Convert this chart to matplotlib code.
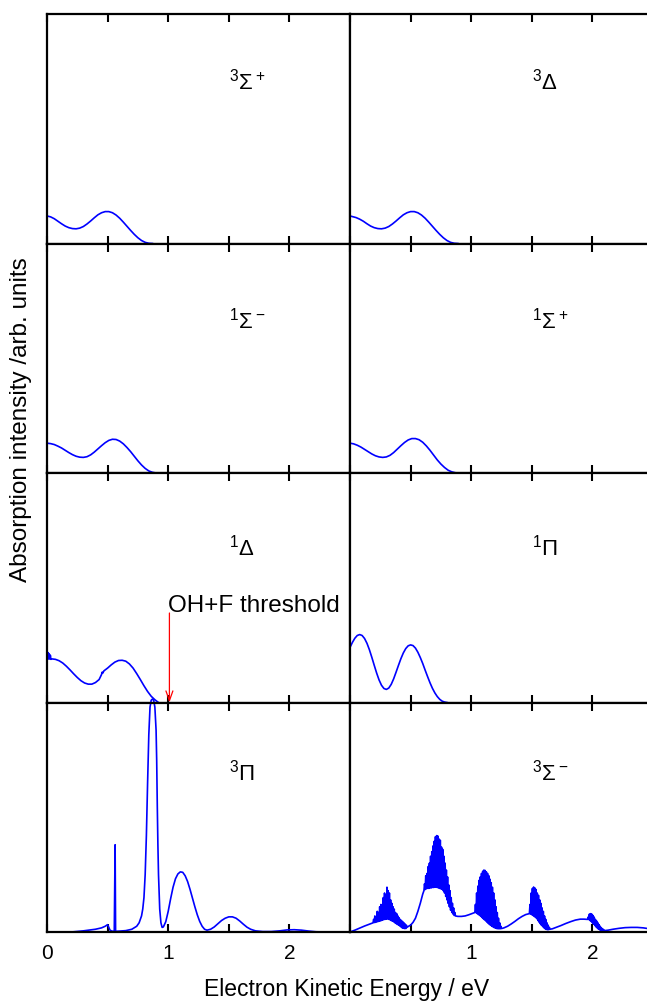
import matplotlib
matplotlib.use('Agg')
import matplotlib.pyplot as plt

plt.rcParams['font.family'] = ['Liberation Sans', 'DejaVu Sans']
plt.rcParams['mathtext.fontset'] = 'custom'
plt.rcParams['mathtext.rm'] = 'Liberation Sans'
plt.rcParams['mathtext.it'] = 'Liberation Sans:italic'

# 3Sigma+ (top left)
x_3sp = [0, .03, .06, .09, .12, .15, .18, .21, .24, .27, .30, .33, .36, .39, .42,
         .45, .48, .51, .54, .57, .60, .63, .66, .69, .72, .75, .78, .81, .84, .87]
y_3sp = [.120, .116, .108, .097, .086, .076, .069, .065, .064, .067, .074, .085, .098, .112, .125,
         .134, .139, .139, .134, .124, .110, .093, .075, .057, .040, .025, .013, .005, .001, 0]

# 3Delta (top right)
x_3d = [0, .05, .08, .11, .14, .17, .20, .23, .26, .29, .32, .35, .38, .41, .44,
        .47, .50, .53, .56, .59, .62, .65, .68, .71, .74, .77, .80, .83, .86, .89]
y_3d = [.120, .113, .106, .097, .086, .076, .069, .065, .064, .067, .074, .085, .098, .112, .125,
        .134, .139, .139, .134, .124, .110, .093, .075, .057, .040, .025, .013, .005, .001, 0]

# 1Sigma- (second row left)
x_1sm = [0, .03, .06, .09, .12, .15, .18, .21, .24, .27, .30, .33, .36, .39, .42, .45,
         .48, .51, .54, .57, .60, .63, .66, .69, .72, .75, .78, .81, .84, .87, .90]
y_1sm = [.130, .128, .124, .117, .109, .099, .089, .080, .073, .069, .068, .071, .079, .091, .105, .119,
         .132, .142, .147, .146, .139, .127, .111, .093, .073, .053, .035, .020, .009, .003, 0]

# 1Sigma+ (second row right)
x_1sp = [0, .03, .06, .09, .12, .15, .18, .21, .24, .27, .30, .33, .36, .39, .42, .45,
         .48, .51, .54, .57, .60, .63, .66, .69, .72, .75, .78, .81, .84, .87, .90]
y_1sp = [.130, .127, .121, .113, .103, .093, .083, .075, .070, .068, .070, .077, .089, .104, .119, .133,
         .144, .150, .150, .145, .134, .118, .099, .078, .057, .039, .024, .012, .005, .001, 0]

# 1Delta (third row left)
x_1d = [0, .004, .008, .012, .016, .02, .024, .028, .032, .04, .07, .10, .13, .16, .19, .22, .25,
        .28, .31, .34, .37, .40, .43, .45, .455, .46, .47, .50, .53, .56, .59, .62, .65, .68,
        .71, .74, .77, .80, .83, .86, .89, .92]
y_1d = [.19, .22, .19, .215, .19, .21, .19, .205, .188, .19, .188, .182, .172, .158, .142, .125, .109,
        .095, .085, .080, .080, .087, .100, .122, .132, .128, .138, .150, .164, .176, .183, .184, .180, .168,
        .150, .126, .100, .073, .048, .027, .012, 0]

# 1Pi (third row right)
x_1p = [0, .02, .04, .06, .08, .10, .12, .14, .16, .18, .20, .22, .24, .26, .28, .30, .32, .34, .36, .38,
        .40, .42, .44, .46, .48, .50, .52, .54, .56, .58, .60, .62, .64, .66, .68, .70, .72, .74, .76,
        .78, .80]
y_1p = [.240, .262, .280, .292, .296, .292, .279, .258, .230, .197, .162, .128, .098, .075, .061, .057,
        .063, .079, .103, .132, .162, .191, .216, .235, .247, .251, .248, .237, .219, .196, .170, .141,
        .113, .086, .062, .042, .026, .014, .006, .002, 0]

# 3Pi (bottom left)
x_3p = [0, .2, .3, .4, .45, .48, .50, .51, .52, .535, .555, .562, .566, .6, .65, .70,
        .74, .76, .78, .79, .80, .81, .82, .83, .84, .85, .86, .87, .88, .89, .90, .905, .91, .915, .92,
        .93, .94, .95, .96, .98, 1.00, 1.02, 1.04, 1.06, 1.08, 1.10, 1.12, 1.14, 1.16, 1.18, 1.20, 1.22,
        1.24, 1.26, 1.28, 1.30, 1.32, 1.35, 1.38, 1.41, 1.44, 1.47, 1.50, 1.53, 1.56, 1.59, 1.62, 1.65,
        1.68, 1.72, 1.78, 1.85, 1.92, 1.98, 2.04, 2.10, 2.16, 2.22, 2.3, 2.5]
y_3p = [0, 0, .005, .012, .018, .025, .032, .02, .008, .004, .003, .38, .003, .004, .006, .012,
        .025, .04, .07, .10, .15, .25, .42, .65, .86, .98, 1.01, 1.015, 1.01, .98, .88, .75, .55, .38, .25,
        .10, .04, .02, .022, .045, .09, .145, .195, .232, .253, .262, .26, .245, .22, .186, .148, .11,
        .075, .046, .025, .012, .008, .012, .022, .036, .05, .06, .066, .066, .06, .048, .034, .021,
        .012, .005, .002, .002, .005, .009, .01, .008, .004, .001, 0, 0]

# 3Sigma- (bottom right): smooth background pieces and dense vibrational bands
s0_x = [0, .04, .08, .12, .16]
s0_y = [0, .008, .017, .026, .034]
b1_x = [.190, .195, .200, .205, .210, .215, .220, .225, .230, .235, .240, .245, .250, .255, .260,
        .265, .270, .275, .280, .285, .290, .295, .300, .305, .310, .315, .320, .325, .330, .335,
        .340, .345, .350, .355, .360, .365, .370, .375, .380, .385, .390, .395, .400, .405, .410,
        .415, .420, .425, .430, .435, .440, .445, .450, .455, .460, .465, .470]
b1_y = [.040, .055, .041, .070, .042, .062, .044, .090, .045, .085, .047, .110, .048, .120, .050,
        .105, .052, .150, .054, .170, .055, .160, .056, .195, .057, .180, .055, .170, .053, .140,
        .050, .125, .047, .110, .044, .100, .040, .085, .037, .080, .033, .070, .030, .062, .026,
        .055, .022, .050, .018, .045, .016, .040, .015, .035, .015, .030, .020]
s1_x = [.48, .50, .52, .54, .56, .58, .60]
s1_y = [.024, .030, .042, .060, .090, .125, .165]
b2_x = [.610, .615, .620, .625, .630, .635, .640, .645, .650, .655, .660, .665, .670, .675, .680,
        .685, .690, .695, .700, .705, .710, .715, .720, .725, .730, .735, .740, .745, .750, .755,
        .760, .765, .770, .775, .780, .785, .790, .795, .800, .805, .810, .815, .820, .825, .830,
        .835, .840, .845, .850, .855, .860, .865, .870]
b2_y = [.180, .210, .185, .245, .188, .255, .190, .285, .190, .300, .192, .330, .192, .350, .194,
        .375, .194, .395, .195, .415, .195, .420, .194, .418, .192, .405, .190, .400, .188, .370,
        .186, .360, .180, .330, .170, .300, .155, .270, .140, .240, .125, .205, .110, .180, .095,
        .150, .085, .125, .078, .105, .072, .085, .070]
s2_x = [.89, .92, .95, .98, 1.01]
s2_y = [.068, .068, .070, .075, .081]
b3_x = [1.030, 1.035, 1.040, 1.045, 1.050, 1.055, 1.060, 1.065, 1.070, 1.075, 1.080, 1.085, 1.090,
        1.095, 1.100, 1.105, 1.110, 1.115, 1.120, 1.125, 1.130, 1.135, 1.140, 1.145, 1.150, 1.155,
        1.160, 1.165, 1.170, 1.175, 1.180, 1.185, 1.190, 1.195, 1.200, 1.205, 1.210, 1.215, 1.220,
        1.225, 1.230, 1.235, 1.240, 1.245, 1.250]
b3_y = [.085, .120, .084, .170, .080, .200, .076, .225, .072, .240, .068, .255, .063,
        .265, .058, .270, .053, .268, .048, .262, .043, .255, .038, .245, .033, .230,
        .029, .215, .025, .195, .022, .170, .019, .140, .017, .110, .015, .085, .014,
        .060, .014, .040, .014, .025, .015]
s3_x = [1.27, 1.30, 1.33, 1.36, 1.39, 1.42, 1.45]
s3_y = [.018, .025, .035, .046, .058, .068, .076]
b4_x = [1.480, 1.485, 1.490, 1.495, 1.500, 1.505, 1.510, 1.515, 1.520, 1.525, 1.530, 1.535, 1.540,
        1.545, 1.550, 1.555, 1.560, 1.565, 1.570, 1.575, 1.580, 1.585, 1.590, 1.595, 1.600, 1.605,
        1.610, 1.615, 1.620, 1.625, 1.630, 1.635, 1.640, 1.645, 1.650]
b4_y = [.080, .120, .078, .170, .075, .190, .072, .196, .068, .192, .064, .185, .058,
        .170, .050, .160, .043, .140, .036, .125, .029, .105, .023, .090, .018, .070,
        .014, .055, .011, .040, .010, .030, .010, .020, .012]
s4_x = [1.67, 1.70, 1.74, 1.78, 1.82, 1.86, 1.90, 1.93]
s4_y = [.014, .020, .028, .037, .045, .052, .056, .056]
b5_x = [1.960, 1.965, 1.970, 1.975, 1.980, 1.985, 1.990, 1.995, 2.000, 2.005, 2.010, 2.015, 2.020,
        2.025, 2.030, 2.035, 2.040, 2.045, 2.050, 2.055, 2.060, 2.065, 2.070, 2.075, 2.080, 2.085,
        2.090, 2.095, 2.100]
b5_y = [.055, .065, .054, .078, .050, .080, .046, .078, .040, .072, .034, .065, .028,
        .055, .022, .048, .017, .040, .012, .032, .009, .025, .007, .018, .006, .014,
        .006, .010, .006]
s5_x = [2.13, 2.17, 2.22, 2.27, 2.32, 2.37, 2.42, 2.47, 2.5]
s5_y = [.008, .012, .016, .019, .020, .020, .018, .014, .012]

x_3sm = s0_x + b1_x + s1_x + b2_x + s2_x + b3_x + s3_x + b4_x + s4_x + b5_x + s5_x
y_3sm = s0_y + b1_y + s1_y + b2_y + s2_y + b3_y + s3_y + b4_y + s4_y + b5_y + s5_y

panels = [
    [(x_3sp, y_3sp, r'$^3\Sigma^+$', 0.71), (x_3d, y_3d, r'$^3\Delta$', 0.71)],
    [(x_1sm, y_1sm, r'$^1\Sigma^-$', 0.67), (x_1sp, y_1sp, r'$^1\Sigma^+$', 0.67)],
    [(x_1d, y_1d, r'$^1\Delta$', 0.68), (x_1p, y_1p, r'$^1\Pi$', 0.68)],
    [(x_3p, y_3p, r'$^3\Pi$', 0.70), (x_3sm, y_3sm, r'$^3\Sigma^-$', 0.70)],
]

W, H = 647, 1003
fig = plt.figure(figsize=(W / 100, H / 100), dpi=100)

left0 = 47 / W
colw = 303 / W
top = 1 - 15 / H
rowh = 229.5 / H

axes = {}
for r in range(4):
    for c in range(2):
        x, y, label, ly = panels[r][c]
        ax = fig.add_axes([left0 + c * colw, top - (r + 1) * rowh, colw, rowh])
        line, = ax.plot(x, y, color='#0000ff', lw=1.2)
        if r == 3 and c == 0:
            line.set_clip_on(False)
        ax.set_xlim(0, 2.5)
        ax.set_ylim(0, 1)
        ax.set_yticks([])
        ax.set_xticks([0, 0.5, 1, 1.5, 2])
        ax.tick_params(axis='x', direction='in', top=True, bottom=True, length=6, width=1.5,
                       labelsize=15, pad=8)
        if r == 3:
            if c == 0:
                ax.set_xticklabels(['0', '', '1', '', '2'])
            else:
                ax.set_xticklabels(['', '', '1', '', '2'])
        else:
            ax.set_xticklabels([])
        for s in ax.spines.values():
            s.set_linewidth(1.6)
        ax.text(1.5, ly, label, fontsize=16, ha='left', va='center')
        axes[(r, c)] = ax

ax = axes[(2, 0)]
ax.annotate('', xy=(1.01, 0.0), xytext=(1.01, 0.39),
            arrowprops=dict(arrowstyle='->,head_length=0.7,head_width=0.25', color='red', lw=0.9,
                            shrinkA=0, shrinkB=0))
ax.text(1.0, 0.397, 'OH+F threshold', color='black', fontsize=17.5, ha='left', va='baseline')

fig.text(347 / W, 1 - 990 / H, 'Electron Kinetic Energy / eV', fontsize=16.5, ha='center', va='center')
fig.text(21 / W, 1 - 420 / H, 'Absorption intensity /arb. units', fontsize=17.5, ha='center', va='center',
         rotation=90)

fig.savefig('out.png', dpi=100)
